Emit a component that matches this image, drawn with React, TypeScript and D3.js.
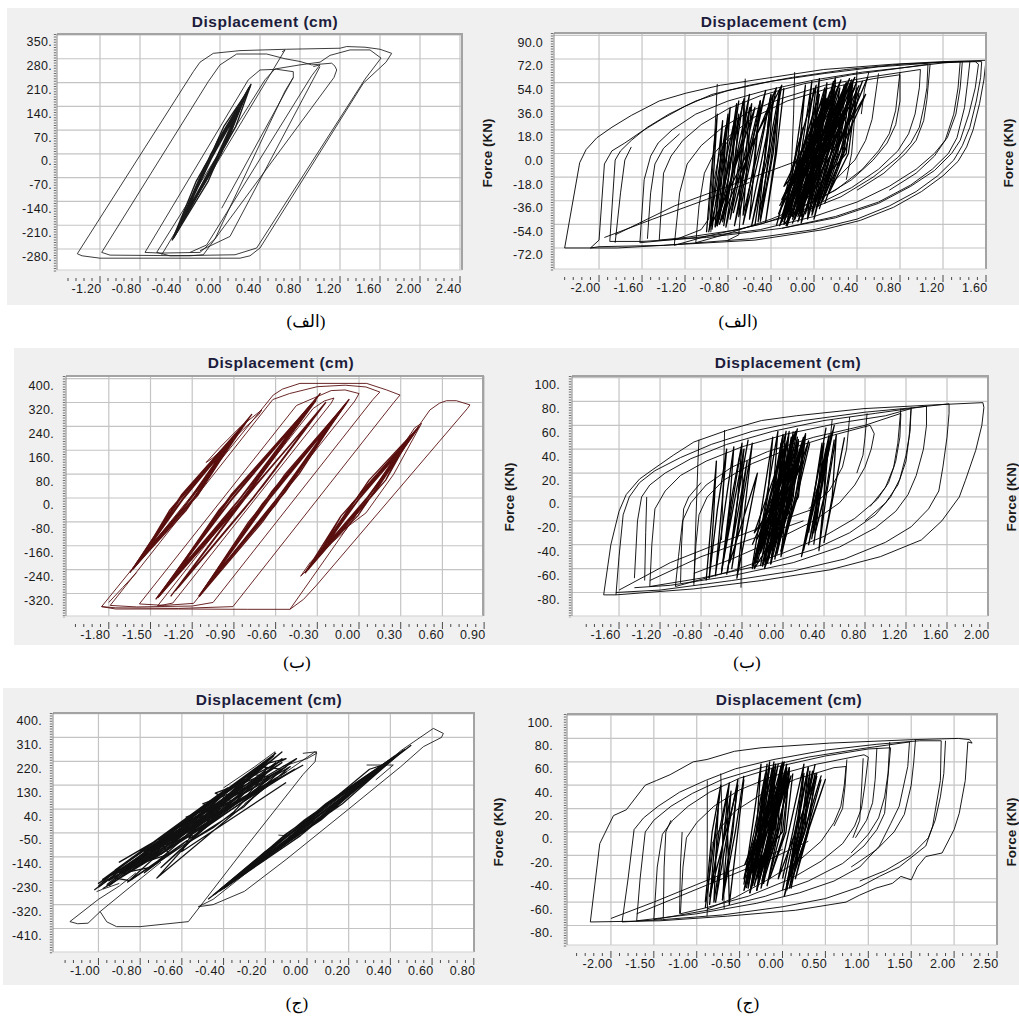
import React from "react";
import * as d3 from "d3";

type Pt = [number, number];

// ---------------- tick values ----------------
const p1XTicks = [-1.2, -0.8, -0.4, 0, 0.4, 0.8, 1.2, 1.6, 2.0, 2.4];
const p1YTicks = [350, 280, 210, 140, 70, 0, -70, -140, -210, -280];
const p2XTicks = [-2.0, -1.6, -1.2, -0.8, -0.4, 0, 0.4, 0.8, 1.2, 1.6];
const p2YTicks = [90, 72, 54, 36, 18, 0, -18, -36, -54, -72];
const p3XTicks = [-1.8, -1.5, -1.2, -0.9, -0.6, -0.3, 0, 0.3, 0.6, 0.9];
const p3YTicks = [400, 320, 240, 160, 80, 0, -80, -160, -240, -320];
const p4XTicks = [-1.6, -1.2, -0.8, -0.4, 0, 0.4, 0.8, 1.2, 1.6, 2.0];
const p4YTicks = [100, 80, 60, 40, 20, 0, -20, -40, -60, -80];
const p5XTicks = [-1.0, -0.8, -0.6, -0.4, -0.2, 0, 0.2, 0.4, 0.6, 0.8];
const p5YTicks = [400, 310, 220, 130, 40, -50, -140, -230, -320, -410];
const p6XTicks = [-2.0, -1.5, -1.0, -0.5, 0, 0.5, 1.0, 1.5, 2.0, 2.5];
const p6YTicks = [100, 80, 60, 40, 20, 0, -20, -40, -60, -80];

const titleText = "Displacement (cm)";
const forceText = "Force (KN)";
const captionTexts = ["(الف)", "(ب)", "(ج)"];

// ---------------- hysteresis traces (displacement cm, force) ----------------
const p1Lines: number[][] = [
  [-1.427,-294, -0.267,242, -0.2,270, -0.067,296, 0.2,304, 0.667,308, 1.2,311, 1.267,316, 1.45,314, 1.6,308, 1.717,296, 1.66,270, 1.433,208, 0.4,-277, 0.3,-300, 0.2,-307, -0.5,-307, -1.2,-307, -1.38,-300, -1.427,-294],
  [-1.183,-290, -0.117,213, 0.0,262, 0.167,294, 0.467,294, 0.65,280, 0.8,272, 0.917,262, 1.117,267, 1.15,258, 1.167,247, 1.14,225, -0.167,-297, -0.3,-300, -1.1,-298, -1.183,-290],
  [-0.75,-290, 0.283,218, 0.4,247, 0.567,249, 0.733,242, 0.733,225, 0.65,185, -0.05,-250, -0.2,-290, -0.6,-292, -0.75,-290],
  [-0.633,-290, 0.45,218, 0.55,250, 0.8,262, 1.0,270, 1.1,290, 1.3,306, 1.5,306, 1.61,282, 1.45,220, 0.367,-277, 0.15,-297, -0.5,-300, -0.633,-290],
  [-0.583,-297, 0.65,306, 0.62,300],
  [0.933,257, 1.0,262, 0.917,230, -0.133,-268, -0.3,-290],
  [0.733,225, 0.017,-160],
  [1.0,257, 0.1,-243, -0.2,-285],
];
const p1Core: number[][] = [
  [-0.469,-250, -0.173,-60, 0.303,200, -0.044,-20, -0.435,-230, -0.036,20, 0.269,180, -0.113,-60, -0.452,-240, -0.104,-20, 0.286,190, 0.076,50, -0.4,-210, -0.173,-60, 0.234,160, 0.024,20, -0.417,-220, 0.016,50, 0.252,170, -0.044,-20, -0.383,-200, -0.104,-20, 0.2,140, -0.113,-60, -0.44,-235, -0.036,20, 0.28,188, 0.076,50, -0.366,-190, -0.173,-60, 0.166,120, 0.024,20, -0.46,-245],
  [-0.46,-245, -0.159,-40, 0.29,195, 0.01,0, -0.43,-228, -0.09,0, 0.26,175, 0.079,40, -0.445,-236, -0.021,40, 0.275,185, -0.059,-40, -0.41,-215, -0.159,-40, 0.24,162, 0.01,0, -0.45,-240],
  [-0.48,-255, -0.237,-80, 0.31,205, 0.157,80, -0.44,-232, 0.037,80, 0.27,182, -0.117,-80, -0.47,-250, -0.237,-80, 0.3,198, 0.157,80, -0.42,-222],
];

const p2Lines: number[][] = [
  [-2.32,-72, -2.18,-7, -2.12,3, -2.02,12, -1.88,20, -1.7,29, -1.44,40, -1.19,46, -0.87,52, -0.39,58, 0.09,64, 0.73,68, 1.2,70, 1.6,71, 1.58,56, 1.54,38, 1.48,18, 1.42,5, 1.34,-6, 1.2,-17, 1.0,-29, 0.74,-41, 0.43,-51, 0.09,-58, -0.55,-66, -1.19,-69, -1.83,-72, -2.32,-72],
  [-2.08,-72, -2.0,-66, -1.95,-8, -1.88,2, -1.76,8, -1.6,17, -1.42,26, -1.2,36, -0.95,45, -0.6,52, -0.2,58, 0.3,64, 0.8,68, 1.3,70, 1.56,70, 1.55,58, 1.51,40, 1.45,20, 1.38,6, 1.3,-5, 1.15,-17, 0.95,-29, 0.7,-40, 0.4,-50, 0.0,-58, -0.6,-65, -1.4,-70, -2.0,-71, -2.08,-72],
  [-1.9,-67, -1.85,-5, -1.8,2, -1.7,10, -1.55,20, -1.35,30, -1.1,40, -0.8,48, -0.4,55, 0.1,61, 0.6,66, 1.1,69, 1.5,70, 1.53,68, 1.5,50, 1.44,30, 1.36,10, 1.28,0, 1.12,-13, 0.9,-25, 0.6,-38, 0.2,-49, -0.3,-57, -1.0,-64, -1.6,-67, -1.9,-67],
  [-1.62,-68, -1.58,-20, -1.52,-2, -1.45,8, -1.32,18, -1.1,30, -0.8,40, -0.45,48, 0.0,56, 0.45,62, 0.9,66, 1.2,69, 1.38,70, 1.36,50, 1.32,30, 1.24,12, 1.12,0, 0.95,-12, 0.7,-25, 0.4,-37, 0.0,-48, -0.5,-58, -1.1,-64, -1.62,-68],
  [-1.44,-66, -1.4,-15, -1.33,-2, -1.22,10, -1.05,22, -0.8,34, -0.5,44, -0.1,53, 0.35,60, 0.8,65, 1.06,68, 1.05,50, 1.02,35, 0.98,20, 0.9,8, 0.78,-3, 0.55,-18, 0.25,-33, -0.15,-46, -0.7,-58, -1.2,-64, -1.44,-66],
  [-1.3,-70, -1.25,-30, -1.18,-8, -1.05,6, -0.85,20, -0.6,32, -0.3,42, 0.1,52, 0.5,58, 0.99,64, 0.98,50, 0.94,30, 0.88,15, 0.78,2, 0.6,-12, 0.35,-26, 0.0,-40, -0.5,-54, -1.0,-63, -1.3,-70],
  [-1.1,-68, -1.07,-40, -1.02,-15, -0.93,0, -0.78,14, -0.55,28, -0.25,40, 0.15,50, 0.55,57, 0.8,60, 0.8,40, 0.76,22, 0.68,8, 0.55,-5, 0.35,-20, 0.05,-35, -0.4,-50, -0.8,-61, -1.1,-68],
  [1.45,70, 1.43,55, 1.4,35, 1.33,12, 1.25,0, 1.1,-12, 0.9,-24, 0.6,-37, 0.2,-48, -0.3,-57],
  [1.36,70, 1.34,50, 1.3,30, 1.22,10, 1.12,-2, 0.95,-15, 0.7,-28],
  [1.08,68, 1.05,41, 1.02,25, 0.95,10, 0.85,0, 0.65,-15, 0.4,-28],
  [0.8,62, 0.76,33, 0.7,15, 0.6,2, 0.45,-12, 0.2,-28, -0.1,-40],
  [0.6,61, 0.54,26, 0.48,10, 0.38,-5, 0.2,-20],
  [0.51,62, 0.47,49, 0.44,30],
  [-0.9,53, -0.92,20, -0.95,-20, -0.98,-50, -1.05,-58, -1.3,-66],
  [-0.64,57, -0.65,20, -0.67,-30, -0.7,-62, -0.8,-66],
  [-0.18,62, -0.19,30, -0.21,-10, -0.24,-40, -0.3,-52],
  [0.4,63, 0.38,30, 0.35,0, 0.3,-20],
  [-1.85,-68, -1.8,-30, -1.76,-5, -1.7,5],
  [-1.55,-65, -1.52,-30, -1.48,-8, -1.4,4, -1.25,15],
  [-0.96,-60, -0.93,-20, -0.88,0, -0.78,12],
  [-1.95,-64, -1.5,-50, -1.0,-35, -0.6,-22],
  [-1.85,-62, -1.3,-40, -0.8,-25, -0.3,-10, 0.2,5],
];
const p2Core: number[][] = [
  [-0.3,-50, 0.2,52, -0.2,-45, 0.35,56, -0.1,-40, 0.05,45, -0.32,-55, 0.28,50, -0.15,-48, 0.38,58, -0.25,-42, 0.1,40, -0.05,-38, 0.3,54, -0.28,-52, 0.15,47, -0.18,-50, 0.4,55, -0.08,-44, 0.22,49, -0.33,-46, 0.08,42, -0.12,-53, 0.33,57, -0.22,-39, 0.18,44, -0.02,-47, 0.36,52, -0.26,-55, 0.12,50, -0.14,-41, 0.25,56, -0.3,-48, 0.02,38, -0.06,-50, 0.29,46, -0.2,-53, 0.38,50, -0.1,-36, 0.2,58],
  [-0.25,-52, -0.12,0, -0.02,55, -0.08,0, -0.18,-50, -0.05,0, 0.05,57, 0.0,0, -0.12,-48, 0.02,0, 0.12,54, 0.06,0, -0.05,-45, 0.1,0, 0.2,56, 0.13,0, 0.0,-50, 0.16,0, 0.28,52, 0.2,0, 0.05,-42, 0.22,0, 0.33,50, 0.26,0, 0.1,-38, 0.28,5, 0.36,48, 0.3,0, -0.28,-54, -0.18,-5, -0.08,52, -0.14,0, -0.22,-46, -0.1,0, 0.0,50],
  [-0.32,-40, 0.1,30, -0.25,-30, 0.25,40, -0.15,-25, 0.32,35, -0.3,-35, 0.05,25, -0.2,-20, 0.18,38, -0.1,-30, 0.3,28, -0.28,-25, 0.12,42, -0.18,-38, 0.22,30, -0.05,-20, 0.35,42, -0.22,-32, 0.08,35],
  [-0.28,-45, -0.15,5, 0.02,52, -0.05,5, -0.2,-48, -0.08,0, 0.1,50, 0.02,0, -0.14,-50, 0.0,-2, 0.18,55, 0.1,2, -0.08,-46, 0.06,0, 0.24,50, 0.16,0, -0.02,-44, 0.12,-2, 0.3,52, 0.22,4, 0.04,-40, 0.18,0, 0.36,54, 0.28,2, 0.08,-36, 0.24,0, 0.4,50, 0.32,0, 0.14,-30, 0.3,5, 0.42,46],
  [-0.35,-55, -0.2,-10, -0.1,20, -0.18,-15, -0.3,-52, -0.12,-8, 0.0,25, -0.08,-12, -0.25,-55, -0.05,-5, 0.08,30, 0.0,-10, -0.2,-50, 0.02,-2, 0.15,35, 0.05,-8, -0.15,-52, 0.08,0, 0.2,40],
  [-0.95,-58, -0.8,30, -0.9,-55, -0.7,40, -0.85,-52, -0.6,45, -0.78,-50, -0.55,35, -0.92,-56, -0.65,42, -0.7,-48, -0.45,48, -0.75,-45, -0.5,40, -0.6,-50, -0.35,50, -0.88,-54, -0.58,38, -0.66,-47, -0.4,44, -0.52,-52, -0.3,52, -0.96,-55, -0.72,32],
  [-1.0,-60, -0.95,-10, -0.9,30, -0.93,-10, -0.97,-58, -0.9,-10, -0.85,25, -0.88,-15, -0.92,-55, -0.85,-5, -0.78,35, -0.82,-10, -0.88,-50, -0.8,-8, -0.72,38, -0.76,-12, -0.84,-55, -0.74,-5, -0.66,40],
  [-0.98,-60, -0.9,-20, -0.82,20, -0.84,-20, -0.9,-55, -0.8,-20, -0.7,30, -0.74,-15, -0.82,-56, -0.7,-15, -0.6,35, -0.64,-10, -0.74,-55, -0.62,-12, -0.5,40, -0.56,-8, -0.66,-54, -0.52,-5, -0.4,45, -0.46,-5, -0.58,-55, -0.44,-5, -0.32,48, -0.38,0, -0.5,-52],
  [-0.55,-55, -0.45,0, -0.38,45, -0.42,0, -0.5,-50, -0.4,-5, -0.32,48, -0.36,0, -0.45,-52, -0.35,0, -0.28,50],
  [0.05,-35, 0.45,55, 0.1,-20, 0.5,58, 0.0,-40, 0.35,50, 0.15,-15, 0.48,45, -0.05,-30, 0.42,52],
];

const p3Lines: number[][] = [
  [-1.852,-364, -0.617,345, -0.55,365, -0.425,384, 0.055,384, 0.199,362, 0.295,345, 0.25,320, -0.907,-364, -1.3,-370, -1.75,-368, -1.852,-364],
  [-0.497,-373, 0.51,295, 0.58,318, 0.63,326, 0.7,326, 0.798,312, 0.78,300, -0.305,-292, -0.4,-340, -0.497,-373],
  [-1.79,-360, -0.62,330, -0.5,350, -0.3,373, -0.1,378, 0.05,372, 0.15,355, 0.1,330, -1.05,-350, -1.2,-362, -1.6,-365, -1.79,-360],
  [-1.58,-355, -0.45,310, -0.3,340, -0.2,360, -0.1,362, 0.0,350, -0.03,325, -1.19,-353, -1.4,-360, -1.58,-355],
  [-1.45,-362, -0.33,300, -0.25,325, -0.18,335, -0.2,318, -1.34,-352, -1.45,-362],
  [-1.1,119, -1.0,170, -0.85,240, -0.7,295, -0.72,280, -0.9,200, -1.05,135, -1.1,119],
  [-1.852,-364, -1.75,-372, -1.3,-372, -0.8,-373, -0.497,-373],
  [-1.6,-250, -1.7,-300, -1.8,-350],
  [-0.42,-262, -0.36,-235, -0.15,-120, 0.05,-50, 0.25,80, 0.45,250, 0.4,235, 0.12,40, -0.1,-110, -0.35,-215, -0.42,-262],
];
const p3Core: number[][] = [
  [-1.648,-250, -1.364,-60, -0.904,200, -1.138,40, -1.615,-230, -1.265,0, -0.821,250, -1.254,-30, -1.565,-200, -1.198,40, -0.987,150, -1.304,-60, -1.64,-245, -1.314,-30, -0.772,280, -1.205,0, -1.516,-170, -1.364,-60, -0.95,175, -1.138,40, -1.6,-220, -1.265,0, -0.87,220, -1.254,-30, -1.58,-210],
  [-1.63,-240, -1.318,-20, -0.93,185, -1.152,20, -1.59,-215, -1.252,20, -0.85,235, -1.218,-20, -1.55,-190, -1.318,-20, -0.96,165, -1.152,20, -1.62,-235, -1.252,20, -0.88,215, -1.218,-20, -1.57,-205],
  [-1.61,-225, -1.278,10, -0.91,195, -1.241,-40, -1.58,-212, -1.361,-40, -0.84,240, -1.158,10, -1.54,-185, -1.278,10, -0.8,262, -1.241,-40, -1.63,-238],
  [-1.463,-340, -0.91,0, -0.365,300, -0.764,50, -1.394,-300, -0.995,-50, -0.314,330, -0.85,0, -1.429,-320, -0.824,50, -0.451,250, -0.935,-50, -1.36,-280, -0.91,0, -0.28,350, -0.85,0, -1.309,-250, -0.995,-50, -0.399,280, -0.764,50, -1.44,-330],
  [-1.45,-333, -0.964,-20, -0.33,320, -0.795,20, -1.41,-310, -0.895,20, -0.42,268, -0.864,-20, -1.38,-292, -0.964,-20, -0.3,338, -0.795,20, -1.33,-262, -0.895,20, -0.38,292, -0.864,-20, -1.44,-326],
  [-1.42,-315, -0.922,10, -0.35,310, -0.887,-40, -1.37,-286, -1.007,-40, -0.41,274, -0.802,10, -1.34,-268, -0.922,10, -0.31,326, -0.887,-40, -1.45,-335],
  [-1.355,-330, -0.889,-40, -0.24,320, -0.692,40, -1.287,-290, -0.82,0, -0.344,260, -0.76,0, -1.32,-310, -0.752,40, -0.29,290, -0.829,-40, -1.3,-300],
  [-1.154,-330, -0.643,0, -0.121,300, -0.501,50, -1.105,-300, -0.725,-50, -0.203,250, -0.583,0, -1.072,-280, -0.561,50, -0.072,330, -0.665,-50, -1.13,-315],
  [-1.14,-321, -0.696,-20, -0.16,276, -0.531,20, -1.09,-291, -0.631,20, -0.1,312, -0.596,-20, -1.12,-309],
  [-1.12,-309, -0.794,-80, -0.14,288, -0.432,80, -1.08,-285, -0.532,80, -0.09,318, -0.694,-80, -1.15,-330],
  [-0.388,-250, -0.066,-40, 0.366,200, 0.061,0, -0.354,-230, 0.001,0, 0.433,240, 0.128,40, -0.22,-150, -0.066,-40, 0.283,150, 0.061,0, -0.304,-200, 0.068,40, 0.4,220, -0.006,-40, -0.37,-240],
  [-0.37,-240, -0.052,-20, 0.39,215, 0.115,20, -0.33,-215, 0.015,20, 0.42,232, 0.048,-20, -0.27,-180, -0.052,-20, 0.33,178, 0.115,20, -0.36,-233],
  [-0.38,-245, -0.129,-60, 0.35,190, 0.192,60, -0.34,-222, 0.072,60, 0.41,228, -0.009,-60, -0.29,-192, -0.129,-60, 0.3,160, 0.192,60, -0.39,-252],
];

const p4Lines: number[][] = [
  [-1.75,-82, -1.68,-40, -1.6,-12, -1.53,2, -1.4,15, -1.27,23, -1.07,35, -0.87,46, -0.54,56, -0.21,64, 0.13,68, 0.79,74, 1.45,77, 1.95,79, 1.96,75, 1.94,60, 1.88,39, 1.78,14, 1.72,0, 1.55,-20, 1.35,-36, 0.95,-50, 0.46,-61, -0.21,-70, -0.87,-77, -1.63,-82, -1.75,-82],
  [-1.63,-82, -1.6,-50, -1.56,-15, -1.5,0, -1.4,12, -1.25,22, -1.0,33, -0.7,44, -0.3,55, 0.2,64, 0.8,71, 1.3,75, 1.62,78, 1.62,70, 1.6,50, 1.56,25, 1.52,5, 1.42,-10, 1.25,-25, 1.0,-38, 0.6,-52, 0.1,-62, -0.5,-70, -1.2,-78, -1.63,-80],
  [-1.45,-68, -1.42,-20, -1.38,0, -1.3,10, -1.15,20, -0.9,32, -0.55,44, -0.1,55, 0.4,64, 0.9,70, 1.4,76, 1.4,60, 1.37,40, 1.3,18, 1.22,2, 1.1,-12, 0.9,-26, 0.55,-42, 0.1,-55, -0.5,-66, -1.1,-74, -1.45,-76],
  [-1.3,-75, -1.28,-40, -1.25,-10, -1.15,5, -1.0,18, -0.75,30, -0.4,42, 0.05,53, 0.55,62, 1.0,68, 1.25,74, 1.24,55, 1.2,35, 1.14,15, 1.05,0, 0.9,-15, 0.65,-30, 0.3,-44, -0.2,-57, -0.8,-68, -1.3,-75],
  [-1.05,-75, -1.02,-50, -0.98,-20, -0.9,-5, -0.75,10, -0.5,25, -0.15,38, 0.3,50, 0.8,60, 1.15,70, 1.14,50, 1.1,30, 1.03,12, 0.92,-2, 0.7,-18, 0.4,-33, 0.0,-47, -0.5,-62, -1.05,-75],
  [-0.87,-72, -0.85,-40, -0.82,-15, -0.74,0, -0.58,14, -0.3,28, 0.05,40, 0.5,52, 0.85,60, 0.89,53, 0.86,40, 0.8,25, 0.7,10, 0.55,-5, 0.3,-20, -0.05,-35, -0.5,-52, -0.87,-64],
  [1.25,75, 1.23,50, 1.2,30, 1.12,10, 1.0,-5, 0.8,-20],
  [1.15,74, 1.12,45, 1.08,25, 1.0,8, 0.85,-8],
  [0.82,70, 0.8,50, 0.78,35, 0.72,20],
  [0.65,67, 0.62,40, 0.58,25, 0.45,5, 0.25,-10],
  [0.48,65, 0.45,40, 0.4,20, 0.3,0],
  [-0.87,-74, -0.85,-20, -0.83,30, -0.82,48],
  [-0.6,-36, -0.58,20, -0.57,56],
  [-0.41,-76, -0.4,0, -0.39,40],
  [-1.35,-70, -1.34,-30, -1.33,0],
  [-1.0,-72, -0.99,-40, -0.97,-10, -0.92,0, -0.8,12],
  [-1.6,-78, -1.1,-55, -0.6,-38, -0.1,-22, 0.3,-10],
  [-1.3,-70, -0.8,-50, -0.3,-35, 0.2,-20],
];
const p4Core: number[][] = [
  [-0.25,-55, 0.05,50, -0.15,-50, 0.15,45, -0.3,-60, 0.0,40, -0.1,-45, 0.12,55, -0.2,-58, 0.2,50, -0.05,-40, 0.08,35, -0.28,-52, 0.03,55, -0.12,-56, 0.18,42, -0.22,-47, 0.1,52, -0.02,-50, 0.25,47, -0.18,-60, -0.02,45, -0.08,-42, 0.14,57, -0.26,-50, 0.06,38, -0.16,-54, 0.22,53, -0.06,-48, 0.16,40],
  [-0.22,-58, -0.1,0, 0.0,52, -0.05,0, -0.15,-55, -0.02,0, 0.08,50, 0.03,0, -0.08,-52, 0.05,0, 0.15,48, 0.1,0, -0.02,-45, 0.12,0, 0.22,52, 0.15,0, -0.28,-60, -0.16,0, -0.05,55, -0.1,0, -0.2,-50, -0.08,0, 0.03,45, -0.01,0, -0.12,-56, 0.0,0, 0.1,55],
  [-0.3,-58, -0.2,-5, -0.1,50, -0.15,0, -0.26,-55, -0.12,0, 0.0,52, -0.06,2, -0.2,-56, -0.06,-2, 0.06,55, 0.0,0, -0.14,-52, 0.02,2, 0.14,50, 0.08,0, -0.08,-50, 0.08,-4, 0.2,48, 0.14,0, -0.02,-46, 0.14,2, 0.26,45],
  [-0.3,-40, 0.05,30, -0.2,-30, 0.15,35, -0.25,-35, 0.1,40, -0.12,-25, 0.2,30, -0.28,-30, 0.0,38],
  [0.25,-30, 0.3,0, 0.38,45, 0.34,0, 0.28,-35, 0.35,-5, 0.45,50, 0.4,0, 0.32,-28, 0.42,5, 0.5,48],
  [0.3,-40, 0.36,0, 0.42,40, 0.4,0, 0.35,-45, 0.42,0, 0.52,52, 0.48,0, 0.4,-38, 0.5,5, 0.6,50],
  [0.2,-45, 0.45,52, 0.25,-40, 0.5,60, 0.18,-50, 0.4,45, 0.3,-30, 0.48,55, 0.22,-38, 0.42,58],
  [-0.55,-65, -0.35,30, -0.5,-60, -0.3,45, -0.45,-68, -0.25,20, -0.52,-55, -0.38,40, -0.6,-62, -0.42,35],
  [-0.75,-70, -0.7,-20, -0.65,30, -0.68,-20, -0.72,-68, -0.64,-10, -0.55,40, -0.6,-10, -0.66,-66, -0.56,-5, -0.48,42, -0.52,-5, -0.6,-64, -0.5,0, -0.4,45, -0.44,0, -0.54,-62, -0.44,0, -0.34,48],
];

const p5Lines: number[][] = [
  [-1.137,-384, -1.1,-392, -1.05,-390, -0.99,-345, -0.85,-255, -0.7,-160],
  [-1.137,-384, -1.0,-300, -0.9,-250, -0.82,-200],
  [-0.993,-345, -0.96,-385, -0.913,-403, -0.8,-403, -0.569,-384, -0.3,-110, -0.018,171, 0.039,219, 0.046,256, -0.02,250],
  [-1.009,-271, -0.98,-262, -0.9,-240],
  [-0.4,120, -0.25,200, -0.153,256, -0.16,240],
  [-0.3,60, -0.1,180, 0.039,256, 0.046,250, 0.0,230, -0.12,200],
  [-0.521,-328, -0.45,-300, 0.0,-20, 0.3,160, 0.45,260, 0.606,344, 0.654,325, 0.645,310, 0.558,275, 0.45,200, 0.2,40, -0.1,-150, -0.3,-270, -0.45,-320, -0.521,-328],
  [0.286,206, 0.414,206, 0.33,150],
  [-0.137,-58, -0.08,-62, -0.02,-40],
];
const p5Core: number[][] = [
  [-1.02,-265, -0.2,220, -0.85,-170, -0.1,180, -0.95,-215, -0.3,130, -0.78,-200, -0.05,230, -0.9,-160, -0.22,150, -0.7,-130, -0.15,250, -1.0,-240, -0.4,60, -0.72,-220, -0.08,200, -0.78,-120, -0.28,170, -0.62,-90, -0.16,240, -0.96,-250, -0.35,110, -0.8,-150, -0.12,215, -0.68,-60, -0.25,190, -0.92,-190, -0.45,80, -0.58,-40, -0.14,160, -0.86,-235, -0.32,150, -0.75,-110, -0.02,205, -0.98,-225, -0.38,120, -0.66,-100, -0.12,255, -0.83,-185, -0.5,20, -0.6,-120, -0.1,140],
  [-1.0,-255, -0.6,-20, -0.18,230, -0.45,30, -0.9,-200, -0.55,0, -0.1,200, -0.4,50, -0.82,-175, -0.5,-10, -0.25,140, -0.35,60, -0.95,-230, -0.62,-60, -0.15,215, -0.3,80, -0.74,-150, -0.42,10, -0.06,190, -0.38,40, -0.88,-210, -0.58,-50, -0.2,180, -0.48,-20, -0.7,-180, -0.3,100, -0.12,230, -0.52,-40, -0.98,-260],
  [-0.95,-250, -0.7,-100, -0.55,-60, -0.6,-20, -0.42,40, -0.5,60, -0.3,120, -0.38,90, -0.62,-70, -0.72,-110, -0.88,-200, -0.75,-180, -0.6,-100, -0.45,-30, -0.35,30, -0.28,90, -0.18,160, -0.25,170, -0.4,80, -0.55,-10, -0.68,-80, -0.8,-140, -0.92,-220, -0.85,-230, -0.7,-150, -0.5,-50, -0.4,0, -0.3,50, -0.2,130, -0.12,190, -0.22,200, -0.35,110, -0.48,30, -0.62,-40, -0.75,-100, -0.9,-180, -1.0,-250],
  [-0.98,-235, -0.78,-160, -0.66,-130, -0.7,-90, -0.52,-20, -0.58,10, -0.36,70, -0.44,100, -0.2,170, -0.2,210, -0.1,230, -0.3,150, -0.46,60, -0.62,-30, -0.78,-130, -0.96,-245],
  [-0.474,-300, 0.0,0, 0.448,250, 0.06,0, -0.39,-250, 0.085,50, 0.364,200, 0.08,30, -0.306,-200, -0.01,-20, 0.498,280, 0.1,40, -0.222,-150, 0.16,80, 0.3,160, 0.05,10, -0.44,-280, 0.02,-5, 0.4,220, 0.07,15, -0.35,-230, -0.02,-30, 0.281,150, 0.09,25, -0.139,-100, 0.2,120, 0.46,260, 0.04,-10, -0.4,-260],
  [-0.45,-285, -0.011,0, 0.43,240, 0.17,60, -0.36,-232, -0.111,-60, 0.36,200, 0.069,0, -0.28,-185, 0.09,60, 0.47,265, -0.031,-60, -0.42,-270],
  [-0.42,-265, -0.2,-120, 0.0,-10, 0.2,110, 0.38,210, 0.3,190, 0.1,60, -0.1,-80, -0.3,-200, -0.38,-240, -0.2,-150, 0.02,-20, 0.25,140, 0.42,240],
];

const p6Lines: number[][] = [
  [-2.24,-77, -2.13,-10, -2.07,-1, -1.97,14, -1.82,19, -1.6,40, -1.47,44, -1.31,49, -1.04,60, -0.88,62, -0.56,69, -0.25,72, 0.55,76, 1.53,79, 2.05,80, 2.18,79, 2.21,76, 2.16,77, 2.13,44, 2.06,16, 2.0,2, 1.86,-18, 1.67,-21, 1.57,-30, 1.5,-41, 1.38,-38, 1.28,-44, 1.09,-48, 0.9,-54, 0.74,-60, 0.15,-67, -0.64,-72, -1.43,-76, -2.24,-77],
  [-1.87,-77, -1.8,-40, -1.73,2, -1.62,12, -1.45,22, -1.2,34, -0.9,44, -0.55,54, -0.1,62, 0.5,70, 1.1,75, 1.6,78, 1.85,78, 1.84,44, 1.75,5, 1.67,-12, 1.36,-30, 1.13,-38, 0.9,-47, 0.5,-57, 0.0,-64, -0.7,-71, -1.4,-75, -1.87,-77],
  [-1.7,-76, -1.66,-40, -1.6,0, -1.5,10, -1.3,22, -1.05,33, -0.7,45, -0.25,55, 0.3,64, 0.9,71, 1.48,77, 1.46,56, 1.36,22, 1.26,7, 1.13,-12, 0.9,-30, 0.6,-42, 0.2,-52, -0.3,-61, -1.0,-70, -1.7,-76],
  [-1.5,-75, -1.46,-30, -1.4,-2, -1.28,10, -1.1,22, -0.85,34, -0.5,46, -0.05,56, 0.5,65, 1.0,71, 1.26,72, 1.22,40, 1.19,16, 1.1,2, 0.95,-12, 0.7,-27, 0.3,-42, -0.2,-55, -0.8,-66, -1.5,-75],
  [-1.19,-70, -1.16,-30, -1.12,-5, -1.0,8, -0.8,22, -0.5,36, -0.1,48, 0.4,58, 0.95,66, 1.0,64, 0.96,40, 0.92,20, 0.84,5, 0.7,-10, 0.45,-25, 0.1,-40, -0.4,-55, -0.9,-65, -1.19,-70],
  [-0.88,-72, -0.86,-40, -0.82,-10, -0.72,4, -0.55,18, -0.25,32, 0.15,45, 0.6,55, 0.74,56, 0.72,40, 0.68,22, 0.6,8, 0.45,-8, 0.2,-24, -0.15,-40, -0.55,-56, -0.88,-66],
  [1.9,78, 1.88,50, 1.84,30, 1.78,10, 1.7,-5, 1.5,-20, 1.2,-33, 0.9,-42],
  [1.55,79, 1.53,60, 1.5,40, 1.42,15, 1.3,0, 1.1,-15, 0.8,-30],
  [1.25,77, 1.23,50, 1.19,30, 1.12,12, 1.0,-2, 0.8,-18],
  [1.1,72, 1.08,45, 1.05,25, 0.98,10, 0.85,-5],
  [0.94,63, 0.92,35, 0.9,10, 0.82,-5],
  [0.75,62, 0.73,40, 0.7,20, 0.6,5],
  [-0.877,44, -0.877,0, -0.88,-41],
  [-0.72,50, -0.7,0, -0.68,-66],
  [-1.2,-70, -1.19,-30, -1.17,0],
  [-1.39,-74, -1.38,-30, -1.36,0, -1.3,10],
  [-2.0,-74, -1.5,-60, -1.0,-45, -0.5,-30, 0.0,-15],
  [-1.7,-70, -1.2,-55, -0.7,-40, -0.2,-25, 0.3,-8],
];
const p6Core: number[][] = [
  [-0.4,-45, -0.05,58, -0.3,-40, 0.05,52, -0.45,-50, -0.15,55, -0.35,-35, 0.0,60, -0.25,-48, 0.1,48, -0.42,-42, -0.08,50, -0.2,-30, 0.05,58, -0.38,-52, -0.12,45, -0.28,-38, 0.08,55, -0.33,-46, -0.02,50, -0.22,-44, 0.02,60, -0.44,-38, -0.1,56, -0.3,-50, 0.06,46],
  [-0.42,-48, -0.3,0, -0.18,58, -0.24,0, -0.36,-45, -0.22,0, -0.1,60, -0.16,0, -0.3,-50, -0.15,0, -0.02,56, -0.08,0, -0.24,-42, -0.1,0, 0.05,55, -0.02,0, -0.18,-46, -0.05,0, 0.08,52, 0.0,0, -0.45,-40, -0.33,0, -0.2,50, -0.27,0, -0.38,-52, -0.26,0, -0.12,55],
  [-0.45,-45, -0.35,5, -0.25,58, -0.3,5, -0.4,-48, -0.28,0, -0.15,60, -0.22,0, -0.35,-46, -0.2,2, -0.08,58, -0.14,0, -0.28,-44, -0.12,0, 0.0,56, -0.06,0, -0.22,-42, -0.04,2, 0.08,55, 0.02,0, -0.15,-40, 0.04,0, 0.12,50],
  [-0.4,-30, -0.05,40, -0.32,-25, 0.02,35, -0.28,-35, 0.05,45, -0.44,-28, -0.1,38],
  [0.0,-40, 0.12,0, 0.25,50, 0.18,0, 0.05,-45, 0.2,0, 0.32,52, 0.26,0, 0.1,-35, 0.28,5, 0.4,48],
  [0.05,-50, 0.15,0, 0.3,55, 0.22,0, 0.1,-48, 0.22,-5, 0.38,50, 0.3,0, 0.15,-40, 0.3,5, 0.45,45],
  [0.0,-50, 0.3,55, 0.05,-45, 0.4,50, -0.05,-40, 0.25,58, 0.1,-38, 0.45,48, 0.02,-55, 0.35,52, 0.15,-30, 0.5,45, 0.08,-48, 0.38,58],
  [-0.9,-65, -0.75,20, -0.8,-60, -0.6,35, -0.7,-58, -0.52,40, -0.85,-55, -0.65,30, -0.62,-62, -0.45,45],
  [-0.9,-60, -0.82,0, -0.72,40, -0.78,0, -0.85,-62, -0.74,0, -0.62,42, -0.68,0, -0.78,-60, -0.64,0, -0.52,45, -0.58,0, -0.7,-58, -0.55,0, -0.45,48],
];

// ---------------- layout ----------------
type Cfg = {
  id: string; box: number[]; xd: number[]; yd: number[];
  xt: number[]; yt: number[]; minorStart: number; minorStep: number;
  yFmt: (v: number) => string; gap: number;
  title: number[]; caption: number[]; capText: string;
  forceL: number[] | null; forceR: number[] | null;
  lines: number[][]; core: number[][]; color: string; sw: number; csw: number;
};

const intDot = (v: number) => `${v}.`;
const oneDec = (v: number) => v.toFixed(1);

const panels: Cfg[] = [
  { id: "a", box: [57, 34, 462, 270], xd: [-1.63, 2.42], yd: [-341.8, 352.9], xt: p1XTicks, yt: p1YTicks,
    minorStart: -1.52, minorStep: 0.08, yFmt: intDot, gap: 5, title: [265, 27], caption: [306, 323], capText: captionTexts[0],
    forceL: null, forceR: null, lines: p1Lines, core: p1Core, color: "#1a1a1a", sw: 0.85, csw: 1.35 },
  { id: "b", box: [554, 33, 986, 269], xd: [-2.419, 1.6], yd: [-88.0, 91.8], xt: p2XTicks, yt: p2YTicks,
    minorStart: -2.32, minorStep: 0.08, yFmt: oneDec, gap: 11, title: [774, 27], caption: [738, 323], capText: captionTexts[0],
    forceL: [492, 153], forceR: [1013, 153], lines: p2Lines, core: p2Core, color: "#000", sw: 0.9, csw: 1.3 },
  { id: "c", box: [66, 376, 483, 616], xd: [-2.108, 0.892], yd: [-395.4, 408.8], xt: p3XTicks, yt: p3YTicks,
    minorStart: -2.04, minorStep: 0.06, yFmt: intDot, gap: 12, title: [281, 368], caption: [297, 664], capText: captionTexts[1],
    forceL: null, forceR: null, lines: p3Lines, core: p3Core, color: "#5a0f0f", sw: 0.9, csw: 1.3 },
  { id: "d", box: [572, 376, 988, 616], xd: [-2.059, 2.0], yd: [-99.7, 101.3], xt: p4XTicks, yt: p4YTicks,
    minorStart: -1.92, minorStep: 0.08, yFmt: intDot, gap: 12, title: [788, 368], caption: [747, 664], capText: captionTexts[1],
    forceL: [514, 497], forceR: [1016, 497], lines: p4Lines, core: p4Core, color: "#000", sw: 0.9, csw: 1.3 },
  { id: "e", box: [53, 713, 474, 952], xd: [-1.218, 0.801], yd: [-498.5, 402], xt: p5XTicks, yt: p5YTicks,
    minorStart: -1.16, minorStep: 0.04, yFmt: intDot, gap: 11, title: [269, 705], caption: [297, 1005], capText: captionTexts[2],
    forceL: null, forceR: null, lines: p5Lines, core: p5Core, color: "#111", sw: 0.85, csw: 1.25 },
  { id: "f", box: [567, 714, 997, 945], xd: [-2.512, 2.5], yd: [-96.7, 100.9], xt: p6XTicks, yt: p6YTicks,
    minorStart: -2.4, minorStep: 0.1, yFmt: intDot, gap: 14, title: [789, 705], caption: [748, 1005], capText: captionTexts[2],
    forceL: [503, 832], forceR: [1016, 832], lines: p6Lines, core: p6Core, color: "#000", sw: 0.9, csw: 1.3 },
];

const toPts = (a: number[]): Pt[] => {
  const out: Pt[] = [];
  for (let i = 0; i + 1 < a.length; i += 2) out.push([a[i], a[i + 1]]);
  return out;
};

const SANS = "'Liberation Sans', Arial, Helvetica, sans-serif";

function Panel({ c }: { c: Cfg }) {
  const [l, t, r, b] = c.box;
  const xs = d3.scaleLinear().domain(c.xd).range([l, r]);
  const ys = d3.scaleLinear().domain(c.yd).range([b, t]);
  const line = d3.line<Pt>().x((d) => xs(d[0])).y((d) => ys(d[1]));
  const n = Math.floor((c.xd[1] + c.minorStep * 0.3 - c.minorStart) / c.minorStep + 1e-9);
  const minor = d3.range(n + 1).map((i) => c.minorStart + i * c.minorStep);
  const isMajor = (v: number) => c.xt.some((tv) => Math.abs(tv - v) < c.minorStep / 4);
  const clipId = `clip-${c.id}`;
  return (
    <g>
      <defs>
        <clipPath id={clipId}>
          <rect x={l} y={t} width={r - l} height={b - t} />
        </clipPath>
      </defs>
      <rect x={l} y={t} width={r - l} height={b - t} fill="#ffffff" />
      {c.xt.map((v) => (
        <line key={"gx" + v} x1={xs(v)} x2={xs(v)} y1={t} y2={b} stroke="#c4c4c4" strokeWidth={1.2} />
      ))}
      {c.yt.map((v) => (
        <line key={"gy" + v} x1={l} x2={r} y1={ys(v)} y2={ys(v)} stroke="#c4c4c4" strokeWidth={1.2} />
      ))}
      <g clipPath={`url(#${clipId})`} fill="none" stroke={c.color} strokeLinejoin="round">
        {c.lines.map((arr, i) => (
          <path key={"l" + i} d={line(toPts(arr)) || ""} strokeWidth={c.sw} />
        ))}
        {c.core.map((arr, i) => (
          <path key={"c" + i} d={line(toPts(arr)) || ""} strokeWidth={c.csw} />
        ))}
      </g>
      <line x1={l} x2={r + 1} y1={t} y2={t} stroke="#a3a3a3" strokeWidth={2} />
      <line x1={r} x2={r} y1={t} y2={b} stroke="#a3a3a3" strokeWidth={2} />
      <line x1={l} x2={r} y1={b} y2={b} stroke="#cfcfcf" strokeWidth={1} />
      <line x1={l} x2={l} y1={t} y2={b} stroke="#8a8a8a" strokeWidth={1} />
      <line x1={l - 2} x2={l - 2} y1={t} y2={b + 2} stroke="#6e6e6e" strokeWidth={2.4} strokeDasharray="1 1.6" />
      {minor.map((v, i) => {
        const M = isMajor(v);
        return (
          <line key={"mt" + i} x1={xs(v)} x2={xs(v)} y1={b + (M ? 6 : 8)} y2={b + (M ? 13 : 11)}
            stroke="#4a4a4a" strokeWidth={1} />
        );
      })}
      {c.xt.map((v) => (
        <text key={"xl" + v} x={xs(v) + 1.5} y={b + 23} textAnchor="end" fontFamily={SANS} fontSize={12.5}
          letterSpacing={0.3} fill="#1a1a1a">
          {v.toFixed(2)}
        </text>
      ))}
      {c.yt.map((v) => (
        <text key={"yl" + v} x={l - c.gap} y={ys(v) + 11.5} textAnchor="end" fontFamily={SANS} fontSize={12.5}
          letterSpacing={0.3} fill="#1a1a1a">
          {c.yFmt(v)}
        </text>
      ))}
      <text x={c.title[0]} y={c.title[1]} textAnchor="middle" fontFamily={SANS} fontWeight="bold" fontSize={15.5}
        letterSpacing={0.5} fill="#1c1c3c">
        {titleText}
      </text>
      {c.forceL && (
        <text transform={`translate(${c.forceL[0]},${c.forceL[1]}) rotate(-90)`} textAnchor="middle"
          fontFamily={SANS} fontWeight="bold" fontSize={13.5} fill="#1a1a1a">
          {forceText}
        </text>
      )}
      {c.forceR && (
        <text transform={`translate(${c.forceR[0]},${c.forceR[1]}) rotate(-90)`} textAnchor="middle"
          fontFamily={SANS} fontWeight="bold" fontSize={13.5} fill="#1a1a1a">
          {forceText}
        </text>
      )}
      <text x={c.caption[0]} y={c.caption[1]} textAnchor="middle" dominantBaseline="middle"
        fontFamily="'Liberation Serif', 'DejaVu Sans', serif" fontSize={17} fill="#000">
        {c.capText}
      </text>
    </g>
  );
}

export default function App() {
  return (
    <svg width={1019} height={1021} viewBox="0 0 1019 1021"
      style={{ position: "absolute", left: 0, top: 0, background: "#ffffff" }}>
      <rect x={0} y={0} width={1019} height={1021} fill="#ffffff" />
      <rect x={7} y={8} width={1012} height={297} fill="#f0f0f0" />
      <rect x={14} y={348} width={1005} height={297} fill="#f0f0f0" />
      <rect x={3} y={688} width={1016} height={297} fill="#f0f0f0" />
      {panels.map((c) => (
        <Panel key={c.id} c={c} />
      ))}
    </svg>
  );
}
